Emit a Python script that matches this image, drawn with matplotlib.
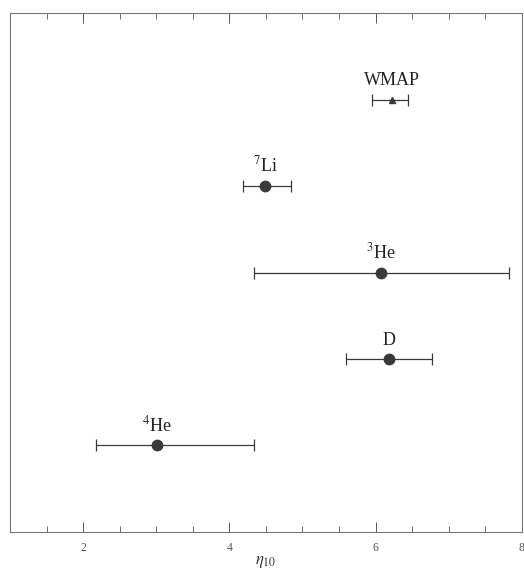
import numpy as np
import matplotlib
matplotlib.use('Agg')
import matplotlib.pyplot as plt
from matplotlib.ticker import MultipleLocator

plt.rcParams['font.family'] = ['Liberation Serif', 'DejaVu Serif']
plt.rcParams['mathtext.fontset'] = 'stix'

# data
labels = ['$^{4}$He', 'D', '$^{3}$He', '$^{7}$Li', 'WMAP']
eta = [3.01, 6.18, 6.07, 4.49, 6.22]
eta_lo = [2.18, 5.60, 4.34, 4.18, 5.95]
eta_hi = [4.34, 6.77, 7.82, 4.84, 6.44]
rows = [1, 2, 3, 4, 5]
markers = ['o', 'o', 'o', 'o', '^']

fig = plt.figure(figsize=(5.24, 5.76), dpi=100)
ax = fig.add_axes([0.019, 0.0764, 0.977, 0.901])

col = '#3a3a3a'
for lab, x, lo, hi, y, m in zip(labels, eta, eta_lo, eta_hi, rows, markers):
    ax.errorbar(x, y, xerr=[[x - lo], [hi - x]], fmt=m, color=col,
                ms=7.5 if m == 'o' else 5, elinewidth=0.9, capsize=4, capthick=0.9)
    ax.text(x, y + 0.12, lab, ha='center', va='bottom', fontsize=13, color='#222222')

ax.set_xlim(1, 8)
ax.set_ylim(0, 6)
ax.xaxis.set_major_locator(MultipleLocator(2))
ax.xaxis.set_minor_locator(MultipleLocator(0.5))
ax.tick_params(axis='x', which='both', direction='in', top=True, labelsize=8.5,
               colors='#555555', pad=7)
ax.tick_params(axis='x', which='major', length=7, width=0.7)
ax.tick_params(axis='x', which='minor', length=4, width=0.6)
ax.set_yticks([])
for s in ax.spines.values():
    s.set_color('#777777')
    s.set_linewidth(0.8)
ax.set_xlabel(r'$\eta_{10}$', fontsize=12, color='#333333', labelpad=0)

fig.savefig('out.png', dpi=100)
